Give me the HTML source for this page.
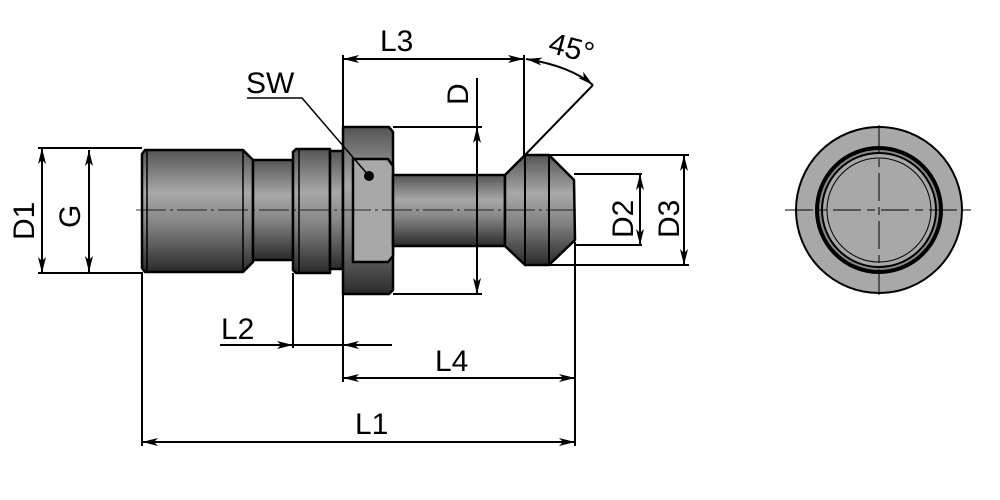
<!DOCTYPE html>
<html><head><style>html,body{margin:0;padding:0;background:#fff;}svg{display:block}</style></head>
<body>
<svg width="1000" height="500" viewBox="0 0 1000 500" xmlns="http://www.w3.org/2000/svg" font-family="Liberation Sans, sans-serif">
<defs>
<linearGradient id="g" x1="0" y1="0" x2="0" y2="1">
<stop offset="0" stop-color="#555"/><stop offset="0.35" stop-color="#a8a8a8"/><stop offset="0.6" stop-color="#858585"/><stop offset="1" stop-color="#2a2a2a"/>
</linearGradient>
<marker id="a" viewBox="0 0 16 8" refX="16" refY="4" markerWidth="16" markerHeight="8" orient="auto-start-reverse" markerUnits="userSpaceOnUse"><path d="M0,0 L16,4 L0,8 L4,4z" fill="#000"/></marker>
</defs>
<g stroke="#000" stroke-width="2.5" fill="url(#g)" stroke-linejoin="round">
<path d="M145,150 L243,150 L253,160 L253,262 L243,272 L145,272 L142,268 L142,154z"/>
<line x1="147" y1="151" x2="147" y2="271" stroke-width="1.5"/>
<line x1="243" y1="150" x2="243" y2="272" stroke-width="1.5"/>
<rect x="253" y="160" width="40" height="100"/>
<path d="M296,149 L330,149 L330,273 L296,273 L293,270 L293,152z"/>
<line x1="299" y1="150" x2="299" y2="272" stroke-width="1.5"/>
<rect x="330" y="151" width="13" height="118"/>
<path d="M343,127 L389,127 L393,132 L393,290 L389,294 L343,294z"/>
<path d="M353,159 L388,159 L393,166 L393,256 L388,262 L353,262z" fill="#a8a8a8"/>
<rect x="393" y="175" width="112" height="71"/>
<path d="M505,175 L525,155 L549,155 L574,180 L575,240 L549,265 L525,265 L505,246z"/>
<line x1="525" y1="155" x2="525" y2="265" stroke-width="2"/>
<line x1="549" y1="155" x2="549" y2="265" stroke-width="2"/>
</g>
<circle cx="369" cy="176" r="5" fill="#000"/>
<line x1="136" y1="210" x2="580" y2="210" stroke="#000" stroke-width="0.8" stroke-dasharray="30,4,3,4"/>
<g stroke="#000" stroke-width="2" fill="none">
<line x1="38" y1="148" x2="142" y2="148"/>
<line x1="38" y1="273" x2="142" y2="273"/>
<line x1="42" y1="148" x2="42" y2="273" marker-start="url(#a)" marker-end="url(#a)"/>
<line x1="89" y1="150" x2="89" y2="272" marker-start="url(#a)" marker-end="url(#a)"/>
<line x1="343" y1="55" x2="343" y2="127"/>
<line x1="524" y1="55" x2="524" y2="155"/>
<line x1="343" y1="59" x2="524" y2="59" marker-start="url(#a)" marker-end="url(#a)"/>
<line x1="393" y1="127" x2="482" y2="127"/>
<line x1="393" y1="294" x2="482" y2="294"/>
<line x1="477" y1="78" x2="477" y2="127"/>
<line x1="477" y1="127" x2="477" y2="294" marker-start="url(#a)" marker-end="url(#a)"/>
<line x1="525" y1="155" x2="593" y2="85"/>
<path d="M526,59 Q570,66 593,85" marker-end="url(#a)" marker-start="url(#a)"/>
<line x1="549" y1="155" x2="689" y2="155"/>
<line x1="549" y1="265" x2="689" y2="265"/>
<line x1="574" y1="174" x2="642" y2="174"/>
<line x1="574" y1="245" x2="642" y2="245"/>
<line x1="640" y1="174" x2="640" y2="245" marker-start="url(#a)" marker-end="url(#a)"/>
<line x1="684" y1="155" x2="684" y2="265" marker-start="url(#a)" marker-end="url(#a)"/>
<line x1="142" y1="272" x2="142" y2="446"/>
<line x1="293" y1="273" x2="293" y2="348"/>
<line x1="343" y1="294" x2="343" y2="382"/>
<line x1="575" y1="242" x2="575" y2="446"/>
<line x1="220" y1="345" x2="293" y2="345" marker-end="url(#a)"/>
<line x1="293" y1="345" x2="343" y2="345"/>
<line x1="392" y1="345" x2="343" y2="345" marker-end="url(#a)"/>
<line x1="343" y1="378" x2="575" y2="378" marker-start="url(#a)" marker-end="url(#a)"/>
<line x1="142" y1="442" x2="575" y2="442" marker-start="url(#a)" marker-end="url(#a)"/>
<polyline points="247,98 302,98 369,176" stroke-width="1.5"/>
</g>
<g font-size="30" fill="#000">
<text x="246" y="93">SW</text>
<text x="380" y="51">L3</text>
<text x="221" y="339">L2</text>
<text x="435" y="371">L4</text>
<text x="355" y="434">L1</text>
<text transform="translate(547,52) rotate(15)">45°</text>
<text transform="translate(34,240) rotate(-90)">D1</text>
<text transform="translate(80,228) rotate(-90)">G</text>
<text transform="translate(468,105) rotate(-90)">D</text>
<text transform="translate(633,238) rotate(-90)">D2</text>
<text transform="translate(679,238) rotate(-90)">D3</text>
</g>
<g stroke="#000">
<circle cx="879" cy="210" r="83" fill="#a8a8a8" stroke-width="2"/>
<circle cx="879" cy="210" r="62" fill="#888" stroke-width="4"/>
<circle cx="879" cy="210" r="57" fill="#a8a8a8" stroke-width="2"/>
<circle cx="879" cy="210" r="52" fill="none" stroke-width="1"/>
<line x1="785" y1="210" x2="972" y2="210" stroke-width="1" stroke-dasharray="28,6,8,6"/>
<line x1="879" y1="125" x2="879" y2="295" stroke-width="1" stroke-dasharray="28,6,8,6"/>
</g>
</svg>
</body></html>
